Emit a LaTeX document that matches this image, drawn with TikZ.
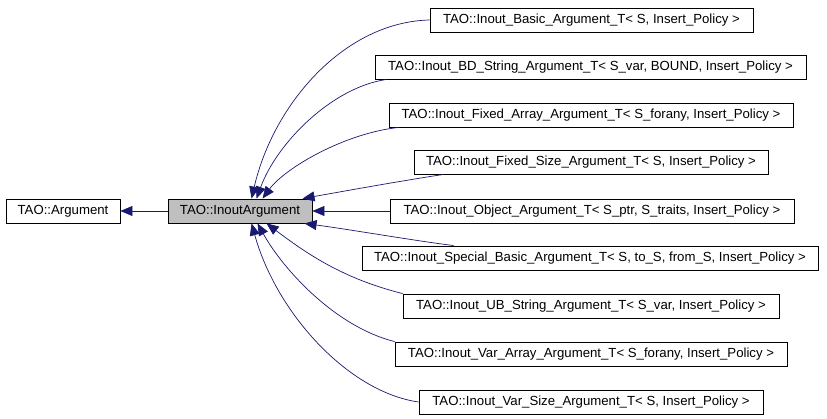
\documentclass[tikz,border=0pt]{standalone}
\usepackage{fontspec}
\setmainfont{Liberation Sans}
\usetikzlibrary{arrows.meta}
\definecolor{edgeblue}{HTML}{191970}
\definecolor{hlgray}{HTML}{BFBFBF}
\tikzset{
  cls/.style={draw=black, line width=0.9pt, inner sep=0pt, minimum height=24pt, font=\fontsize{13.2}{14}\selectfont, anchor=center},
  inh/.style={draw=edgeblue, line width=0.7pt, -{Triangle[length=12pt,width=10pt]}, fill=none},
}
\begin{document}
\begin{tikzpicture}[x=1pt,y=-1pt]
\useasboundingbox (0,0) rectangle (827,419);
\node[cls, minimum width=114pt] (arg) at (63,211) {TAO::Argument};
\node[cls, minimum width=144pt, fill=hlgray] (inout) at (240,211) {TAO::InoutArgument};
\node[cls, minimum width=323pt] (basic) at (591.5,20) {TAO::Inout\_Basic\_Argument\_T< S, Insert\_Policy >};
\node[cls, minimum width=431pt] (bd) at (590.5,67) {TAO::Inout\_BD\_String\_Argument\_T< S\_var, BOUND, Insert\_Policy >};
\node[cls, minimum width=404pt] (farr) at (591,115) {TAO::Inout\_Fixed\_Array\_Argument\_T< S\_forany, Insert\_Policy >};
\node[cls, minimum width=354pt] (fsize) at (591,162) {TAO::Inout\_Fixed\_Size\_Argument\_T< S, Insert\_Policy >};
\node[cls, minimum width=404pt] (obj) at (592,211) {TAO::Inout\_Object\_Argument\_T< S\_ptr, S\_traits, Insert\_Policy >};
\node[cls, minimum width=456pt] (spec) at (590,258) {TAO::Inout\_Special\_Basic\_Argument\_T< S, to\_S, from\_S, Insert\_Policy >};
\node[cls, minimum width=376pt] (ub) at (591,306) {TAO::Inout\_UB\_String\_Argument\_T< S\_var, Insert\_Policy >};
\node[cls, minimum width=392pt] (varr) at (591,354) {TAO::Inout\_Var\_Array\_Argument\_T< S\_forany, Insert\_Policy >};
\node[cls, minimum width=344pt] (vsize) at (591,402) {TAO::Inout\_Var\_Size\_Argument\_T< S, Insert\_Policy >};

\coordinate (tBasic) at ([xshift=84pt]inout.north west);
\coordinate (tBD) at ([xshift=89pt]inout.north west);
\coordinate (tFA) at ([xshift=95pt]inout.north west);
\coordinate (tFS) at ([xshift=135pt]inout.north west);
\coordinate (tSP) at ([xshift=137pt]inout.south west);
\coordinate (tUB) at ([xshift=99pt]inout.south west);
\coordinate (tVA) at ([xshift=90pt]inout.south west);
\coordinate (tVS) at ([xshift=84pt]inout.south west);

\draw[inh] (inout.west) -- (arg.east);
\draw[inh] (obj.west) -- (inout.east);
\draw[inh] (basic.west) .. controls +(-85,2) and +(22,-95) .. (tBasic);
\draw[inh] ([xshift=12pt]bd.south west) .. controls +(-55,8) and +(20,-55) .. (tBD);
\draw[inh] ([xshift=10pt]farr.south west) .. controls +(-55,6) and +(22,-30) .. (tFA);
\draw[inh] ([xshift=30pt]fsize.south west) .. controls +(-40,6) and +(45,-8) .. (tFS);
\draw[inh] ([xshift=92pt]spec.north west) .. controls +(-40,-5) and +(45,6) .. (tSP);
\draw[inh] (ub.north west) .. controls +(-60,-15) and +(40,30) .. (tUB);
\draw[inh] (varr.north west) .. controls +(-60,-15) and +(25,45) .. (tVA);
\draw[inh] (vsize.west) .. controls +(-70,-10) and +(25,90) .. (tVS);
\end{tikzpicture}
\end{document}
